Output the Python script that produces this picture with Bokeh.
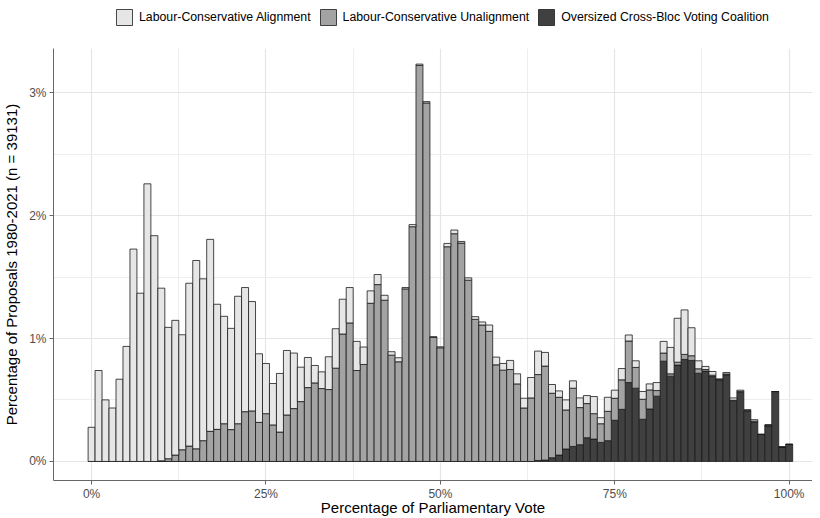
from bokeh.plotting import figure
from bokeh.layouts import column
from bokeh.models import (ColumnDataSource, FixedTicker, PrintfTickFormatter,
                          Legend, LegendItem, Range1d)
from bokeh.embed import file_html
from bokeh.resources import INLINE

# ---- data (percent of proposals per 1%-wide bin of parliamentary vote) ----
vote_pct = list(range(0, 101))

alignment = [
    0.278, 0.740, 0.501, 0.435, 0.669, 0.936, 1.728, 1.369, 2.259, 1.837,
    1.405, 1.069, 1.096, 0.936, 1.325, 1.532, 1.317, 1.562, 1.018, 0.874,
    0.824, 1.037, 1.010, 0.890, 0.558, 0.408, 0.337, 0.477, 0.525, 0.452,
    0.280, 0.245, 0.142, 0.136, 0.267, 0.321, 0.283, 0.288, 0.237, 0.142,
    0.101, 0.082, 0.040, 0.028, 0.033, 0.011, 0.017, 0.011, 0.011, 0.005,
    0.008, 0.027, 0.030, 0.013, 0.019, 0.022, 0.025, 0.051, 0.063, 0.054,
    0.074, 0.082, 0.079, 0.166, 0.191, 0.111, 0.071, 0.052, 0.082, 0.060,
    0.079, 0.065, 0.139, 0.049, 0.114, 0.066, 0.092, 0.049, 0.054, 0.063,
    0.049, 0.065, 0.095, 0.215, 0.357, 0.362, 0.228, 0.065, 0.025, 0.030,
    0.005, 0.012, 0.019, 0.010, 0.008, 0.012, 0.000, 0.000, 0.000, 0.000,
    0.000]

unalignment = [
    0.000, 0.000, 0.000, 0.000, 0.000, 0.000, 0.000, 0.000, 0.000, 0.000,
    0.005, 0.022, 0.052, 0.095, 0.125, 0.103, 0.169, 0.245, 0.261, 0.307,
    0.259, 0.307, 0.405, 0.411, 0.318, 0.389, 0.297, 0.239, 0.378, 0.430,
    0.487, 0.601, 0.639, 0.593, 0.585, 0.759, 1.037, 1.127, 0.740, 0.789,
    1.287, 1.439, 1.312, 0.865, 0.811, 1.404, 1.910, 3.222, 2.917, 1.010,
    0.925, 1.747, 1.853, 1.777, 1.475, 1.156, 1.110, 1.059, 0.786, 0.743,
    0.748, 0.631, 0.435, 0.517, 0.699, 0.765, 0.525, 0.470, 0.318, 0.474,
    0.302, 0.278, 0.207, 0.152, 0.239, 0.179, 0.240, 0.338, 0.169, 0.163,
    0.155, 0.046, 0.066, 0.019, 0.024, 0.041, 0.038, 0.036, 0.013, 0.011,
    0.003, 0.007, 0.003, 0.007, 0.006, 0.007, 0.000, 0.009, 0.000, 0.000,
    0.000]

oversized = [
    0.000, 0.000, 0.000, 0.000, 0.000, 0.000, 0.000, 0.000, 0.000, 0.000,
    0.000, 0.000, 0.000, 0.000, 0.000, 0.000, 0.000, 0.000, 0.000, 0.000,
    0.000, 0.000, 0.000, 0.000, 0.000, 0.000, 0.000, 0.000, 0.000, 0.000,
    0.000, 0.000, 0.000, 0.000, 0.000, 0.000, 0.000, 0.000, 0.000, 0.000,
    0.000, 0.000, 0.000, 0.000, 0.000, 0.000, 0.000, 0.000, 0.000, 0.000,
    0.000, 0.000, 0.000, 0.000, 0.000, 0.000, 0.000, 0.000, 0.000, 0.000,
    0.000, 0.000, 0.000, 0.000, 0.008, 0.011, 0.030, 0.052, 0.101, 0.122,
    0.136, 0.193, 0.182, 0.155, 0.169, 0.335, 0.424, 0.642, 0.596, 0.343,
    0.427, 0.531, 0.816, 0.694, 0.784, 0.830, 0.822, 0.718, 0.735, 0.691,
    0.664, 0.705, 0.495, 0.563, 0.408, 0.321, 0.220, 0.288, 0.569, 0.117,
    0.139]

series_keys = ["alignment", "unalignment", "oversized"]
series_names = ["Labour-Conservative Alignment",
                "Labour-Conservative Unalignment",
                "Oversized Cross-Bloc Voting Coalition"]
series_colors = ["#e6e6e6", "#a3a3a3", "#404040"]

x_ticks = [0, 25, 50, 75, 100]
x_minor = [12.5, 37.5, 62.5, 87.5]
y_ticks = [0, 1, 2, 3]
y_minor = [0.5, 1.5, 2.5]

FONT = "Liberation Sans"
OUTLINE = "#1a1a1a"

# ---------------- main chart ----------------
src = ColumnDataSource(dict(x=vote_pct, alignment=alignment,
                            unalignment=unalignment, oversized=oversized))

p = figure(width=812, height=470, output_backend="svg", toolbar_location=None,
           x_range=Range1d(-5.46, 103.34), y_range=Range1d(-0.155, 3.36),
           min_border_left=45, min_border_right=0, min_border_top=0,
           min_border_bottom=0)
p.outline_line_color = None
p.background_fill_color = "white"
p.border_fill_color = "white"

p.vbar_stack(["oversized", "unalignment", "alignment"], x="x",
             width=1.0, source=src,
             fill_color=[series_colors[2], series_colors[1], series_colors[0]],
             line_color=OUTLINE, line_width=0.8)

p.xaxis.ticker = FixedTicker(ticks=x_ticks, minor_ticks=x_minor)
p.yaxis.ticker = FixedTicker(ticks=y_ticks, minor_ticks=y_minor)
p.xaxis.formatter = PrintfTickFormatter(format="%d%%")
p.yaxis.formatter = PrintfTickFormatter(format="%d%%")
p.xaxis.axis_label = "Percentage of Parliamentary Vote"
p.yaxis.axis_label = "Percentage of Proposals 1980-2021 (n = 39131)"
for ax in (p.xaxis[0], p.yaxis[0]):
    ax.axis_line_color = "#666666"
    ax.axis_line_width = 1
    ax.major_tick_line_color = "#666666"
    ax.major_tick_out = 4
    ax.major_tick_in = 0
    ax.minor_tick_line_color = None
    ax.major_label_text_font = FONT
    ax.major_label_text_font_size = "12px"
    ax.major_label_text_color = "#4d4d4d"
    ax.axis_label_text_font = FONT
    ax.axis_label_text_font_size = "15px"
    ax.axis_label_text_font_style = "normal"
    ax.axis_label_text_color = "black"
p.xaxis.major_label_standoff = 2
p.xaxis.axis_label_standoff = -5
p.yaxis.major_label_standoff = 3
p.yaxis.axis_label_standoff = 6

for g in (p.xgrid[0], p.ygrid[0]):
    g.grid_line_color = "#e5e5e5"
    g.grid_line_width = 1.2
    g.minor_grid_line_color = "#ececec"
    g.minor_grid_line_width = 0.9

# ---------------- legend strip above the chart ----------------
# key renderers reuse the real data; this strip's y range lies above all bars,
# so only the legend keys are visible here
lg = figure(width=812, height=48, output_backend="svg", toolbar_location=None,
            x_range=Range1d(-5.46, 103.34), y_range=Range1d(10, 11),
            x_axis_type=None, y_axis_type=None, min_border=0)
lg.outline_line_color = None
lg.grid.visible = False
lg.background_fill_color = "white"
lg.border_fill_color = "white"

key_renderers = [lg.vbar(x="x", top=k, width=1, source=src, fill_color=c,
                         line_color=OUTLINE, line_width=0.8)
                 for k, c in zip(series_keys, series_colors)]

legend = Legend(items=[LegendItem(label=n, renderers=[r])
                       for n, r in zip(series_names, key_renderers)],
                orientation="horizontal", location=(61, 21),
                padding=0, margin=0, spacing=7, label_standoff=5,
                glyph_width=20, glyph_height=20, label_height=20,
                border_line_color=None, background_fill_alpha=0,
                label_text_font=FONT, label_text_font_size="12.3px",
                label_text_color="black")
lg.add_layout(legend)

layout = column(lg, p, spacing=0)
open("out.html", "w").write(file_html(layout, INLINE))
